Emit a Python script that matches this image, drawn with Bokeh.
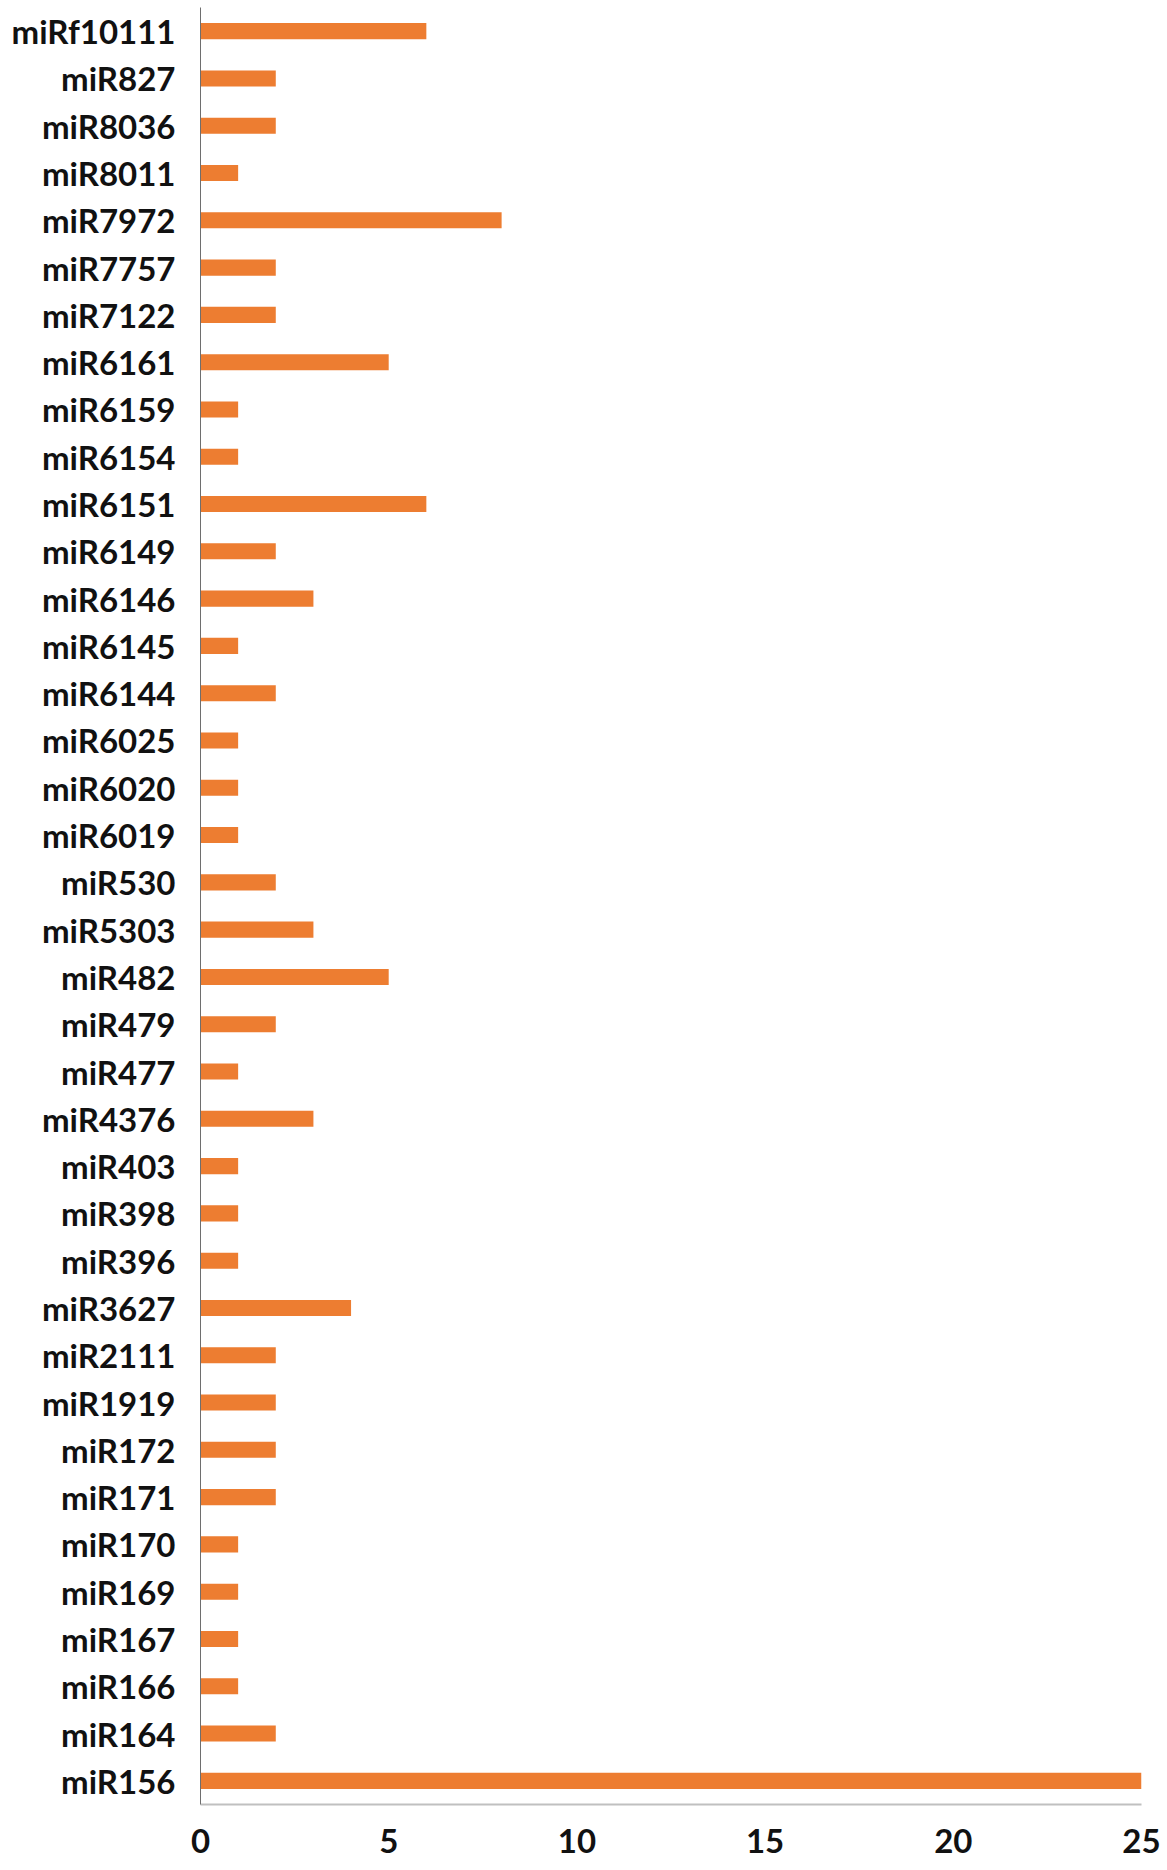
from bokeh.plotting import figure
from bokeh.models import FactorRange, Range1d, FixedTicker
from bokeh.embed import file_html
from bokeh.resources import INLINE

categories = ["miRf10111", "miR827", "miR8036", "miR8011", "miR7972", "miR7757",
              "miR7122", "miR6161", "miR6159", "miR6154", "miR6151", "miR6149",
              "miR6146", "miR6145", "miR6144", "miR6025", "miR6020", "miR6019",
              "miR530", "miR5303", "miR482", "miR479", "miR477", "miR4376",
              "miR403", "miR398", "miR396", "miR3627", "miR2111", "miR1919",
              "miR172", "miR171", "miR170", "miR169", "miR167", "miR166",
              "miR164", "miR156"]
counts = [6, 2, 2, 1, 8, 2,
          2, 5, 1, 1, 6, 2,
          3, 1, 2, 1, 1, 1,
          2, 3, 5, 2, 1, 3,
          1, 1, 1, 4, 2, 2,
          2, 2, 1, 1, 1, 1,
          2, 25]
x_ticks = [0, 5, 10, 15, 20, 25]

FONT = "Lato"

p = figure(
    y_range=FactorRange(factors=list(reversed(categories))),
    x_range=Range1d(0, 25),
    width=1167, height=1870,
    min_border_left=200, min_border_right=26, min_border_top=7, min_border_bottom=66,
    output_backend="svg", toolbar_location=None,
    background_fill_color="white", border_fill_color="white",
)
p.outline_line_color = None
p.xgrid.visible = False
p.ygrid.visible = False

p.hbar(y=categories, right=counts, left=0, height=0.34,
       fill_color="#ED7D31", line_color=None)

xa = p.xaxis[0]
xa.ticker = FixedTicker(ticks=x_ticks)
xa.major_tick_line_color = None
xa.minor_tick_line_color = None
xa.major_tick_out = 0
xa.major_tick_in = 0
xa.axis_line_color = "#c0c0c0"
xa.axis_line_width = 2
xa.major_label_standoff = 24
xa.major_label_text_font = FONT
xa.major_label_text_font_style = "bold"
xa.major_label_text_font_size = "33px"
xa.major_label_text_color = "#111111"

ya = p.yaxis[0]
ya.major_tick_line_color = None
ya.minor_tick_line_color = None
ya.major_tick_out = 0
ya.major_tick_in = 0
ya.axis_line_color = "#6e6e6e"
ya.axis_line_width = 1
ya.major_label_standoff = 25
ya.major_label_text_font = FONT
ya.major_label_text_font_style = "bold"
ya.major_label_text_font_size = "33px"
ya.major_label_text_color = "#111111"

open("out.html", "w").write(file_html(p, INLINE))
